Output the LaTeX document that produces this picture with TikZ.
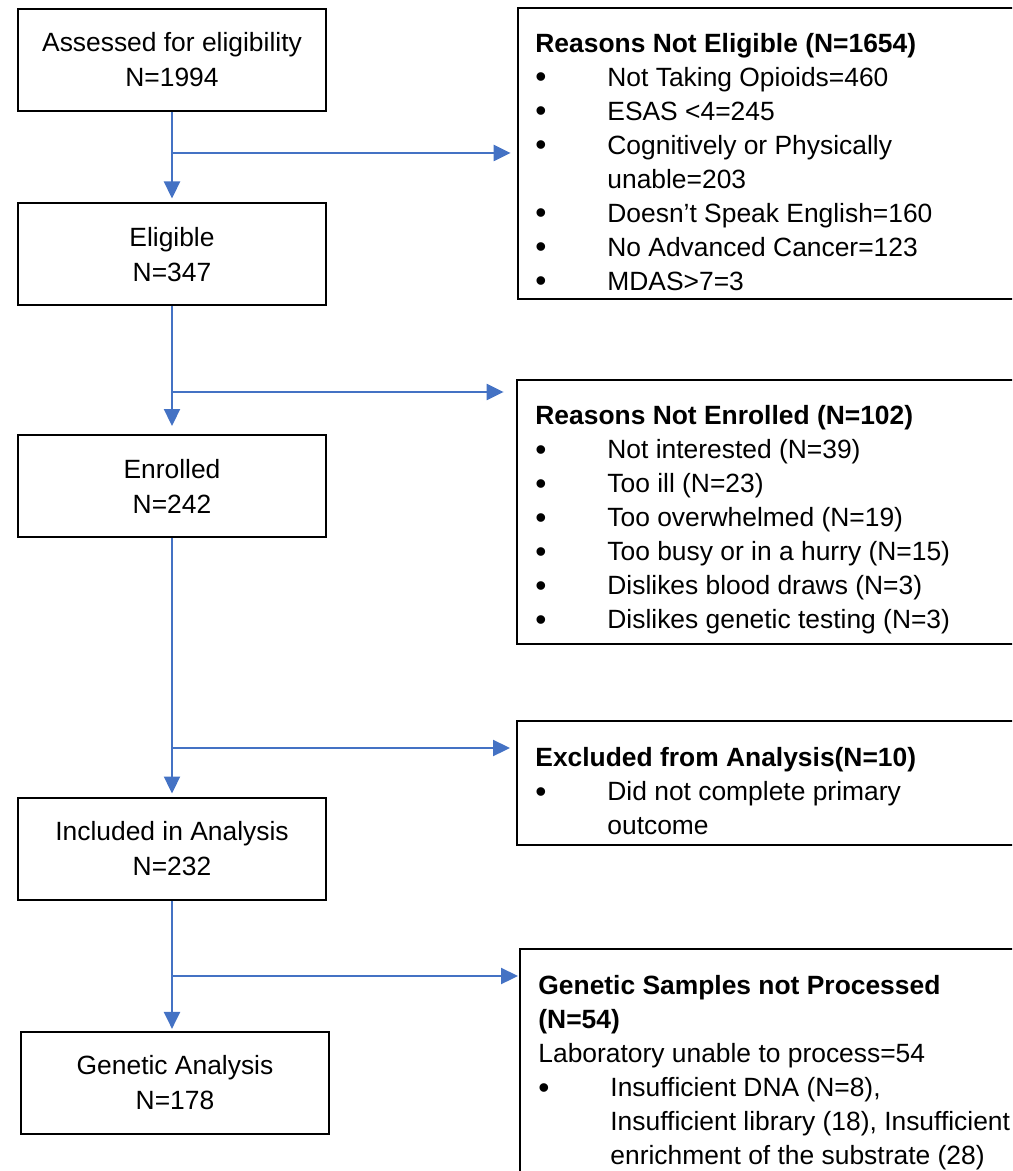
\documentclass[tikz,border=0pt]{standalone}
\usepackage{fontspec}
\setmainfont{Liberation Sans}
\usetikzlibrary{arrows.meta}
\definecolor{flowblue}{HTML}{4472C4}
\newcommand{\bulitem}{\makebox[36pt][l]{\raisebox{-0.8pt}{\scalebox{1.2}{\textbullet}}}}
\newcommand{\contind}{\hspace*{36pt}}

\begin{document}
\begin{tikzpicture}[x=0.5pt, y=-0.5pt,
    box/.style={draw, line width=1pt, minimum width=154pt, minimum height=51pt,
      align=center, inner sep=0pt, font=\fontsize{13.2}{17.5}\selectfont},
    sidebox/.style={draw, line width=1pt, anchor=north west, minimum width=260pt, inner sep=0pt},
    sidetext/.style={anchor=north west, align=left, inner sep=0pt, font=\fontsize{13.2}{17}\selectfont},
    flow/.style={flowblue, line width=1.15pt, -{Triangle[length=8.5pt,width=8pt]}}]
    \useasboundingbox (0,0) rectangle (1012,1171);
    \clip (0,0) rectangle (1012,1171);

    % Caixas principais
    \node[box] (assess) at (172,60) {Assessed for eligibility\\N=1994};
    \node[box] (elig) at (172,254.5) {Eligible\\N=347};
    \node[box] (enrol) at (172,486) {Enrolled\\N=242};
    \node[box] (incl) at (172,848.5) {Included in Analysis\\N=232};
    \node[box] (genan) at (175,1082.5) {Genetic Analysis\\N=178};

    % Caixas laterais
    \node[sidebox, minimum height=145.5pt] (notelig) at (517,7) {};
    \node[sidebox, minimum height=132pt] (notenr) at (516,379) {};
    \node[sidebox, minimum height=62pt] (excl) at (516,720) {};
    \node[sidebox, minimum height=150pt] (notproc) at (519,948) {};

    \node[sidetext] (noteligtxt) at (535,28.2) {\strut\textbf{Reasons Not Eligible (N=1654)}\\
      \bulitem Not Taking Opioids=460\\
      \bulitem ESAS <4=245\\
      \bulitem Cognitively or Physically\\
      \contind unable=203\\
      \bulitem Doesn’t Speak English=160\\
      \bulitem No Advanced Cancer=123\\
      \bulitem MDAS>7=3};
    \node[sidetext] (notenrtxt) at (535,400.7) {\strut\textbf{Reasons Not Enrolled (N=102)}\\
      \bulitem Not interested (N=39)\\
      \bulitem Too ill (N=23)\\
      \bulitem Too overwhelmed (N=19)\\
      \bulitem Too busy or in a hurry (N=15)\\
      \bulitem Dislikes blood draws (N=3)\\
      \bulitem Dislikes genetic testing (N=3)};
    \node[sidetext] (excltxt) at (535,742.7) {\strut\textbf{Excluded from Analysis(N=10)}\\
      \bulitem Did not complete primary\\
      \contind outcome};
    \node[sidetext] (notproctxt) at (538,970.7) {\strut\textbf{Genetic Samples not Processed}\\
      \textbf{(N=54)}\\
      Laboratory unable to process=54\\
      \bulitem Insufficient DNA (N=8),\\
      \contind Insufficient library (18), Insufficient\\
      \contind enrichment of the substrate (28)};

    % Pontos de desvio
    \coordinate (br1) at (172,153);
    \coordinate (br2) at (172,392);
    \coordinate (br3) at (173,748);
    \coordinate (br4) at (172,976);

    % Setas verticais
    \draw[flow, shorten >=2pt] (assess.south) -- (elig.north);
    \draw[flow, shorten >=4pt] (elig.south) -- (enrol.north);
    \draw[flow, shorten >=1.5pt] (enrol.south) -- (incl.north);
    \draw[flow, shorten >=0.8pt] (incl.south) -- (incl.south |- genan.north);

    % Setas laterais
    \draw[flow, shorten >=3.2pt] (br1) -- (br1 -| notelig.west);
    \draw[flow, shorten >=6.2pt] (br2) -- (br2 -| notenr.west);
    \draw[flow, shorten >=3pt] (br3) -- (br3 -| excl.west);
    \draw[flow, shorten >=0.5pt] (br4) -- (br4 -| notproc.west);
\end{tikzpicture}
\end{document}
